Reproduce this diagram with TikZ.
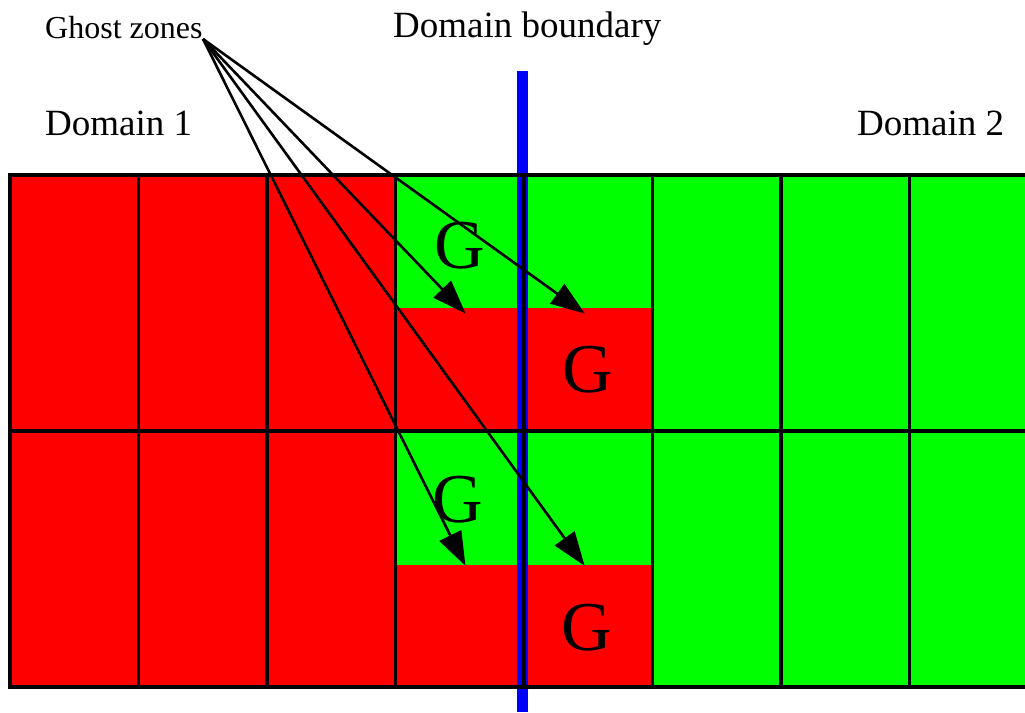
\documentclass[tikz,border=0pt]{standalone}
\usepackage{fontspec}
\setmainfont{Liberation Serif}
\usetikzlibrary{arrows.meta}
\definecolor{cellred}{RGB}{255,0,0}
\definecolor{cellgreen}{RGB}{0,255,0}
\definecolor{bndblue}{RGB}{0,0,255}
\begin{document}
\begin{tikzpicture}[x=1pt,y=-1pt,
  gridline/.style={line width=3.5pt, line cap=rect},
  lbl/.style={anchor=base west, inner sep=0pt, font=\fontsize{37}{40}\selectfont},
  small/.style={anchor=base west, inner sep=0pt, font=\fontsize{32}{34}\selectfont},
  gmark/.style={anchor=base west, inner sep=0pt, font=\fontsize{70}{74}\selectfont},
  ptr/.style={line width=2.6pt, -{Triangle[length=34pt,width=24pt]}, shorten >=-1pt}]
\useasboundingbox (0,0) rectangle (1025,712);
% fills
\fill[cellred] (10,175) rectangle (1025,687);
\fill[cellgreen] (395.5,175) rectangle (652.5,308);
\fill[cellgreen] (395.5,431) rectangle (652.5,565);
\fill[cellgreen] (652.5,175) rectangle (1025,687);
% boundary
\fill[bndblue] (517,71) rectangle (528,712);
% grid
\foreach \yy in {175,431,687} \draw[gridline] (10,\yy) -- (1027,\yy);
\foreach \xx in {10,138.5,267,395.5,524,652.5,781,909.5} \draw[gridline] (\xx,175) -- (\xx,687);
% labels
\node[small] (ghost) at (45,38) {Ghost zones};
\node[lbl] (bnd) at (393,37) {Domain boundary};
\node[lbl] (dom1) at (45,135) {Domain 1};
\node[lbl] (dom2) at (857,135) {Domain 2};
\node[gmark] (g1) at (434,268) {G};
\node[gmark] (g2) at (562,392) {G};
\node[gmark] (g3) at (432,522) {G};
\node[gmark] (g4) at (561,650) {G};
% arrows
\coordinate (apex) at (203,39);
\coordinate (t1) at (465,313);
\coordinate (t2) at (584,313);
\coordinate (t3) at (465,565);
\coordinate (t4) at (584,565);
\foreach \t in {t1,t2,t3,t4} \draw[ptr] (apex) -- (\t);
\end{tikzpicture}
\end{document}
